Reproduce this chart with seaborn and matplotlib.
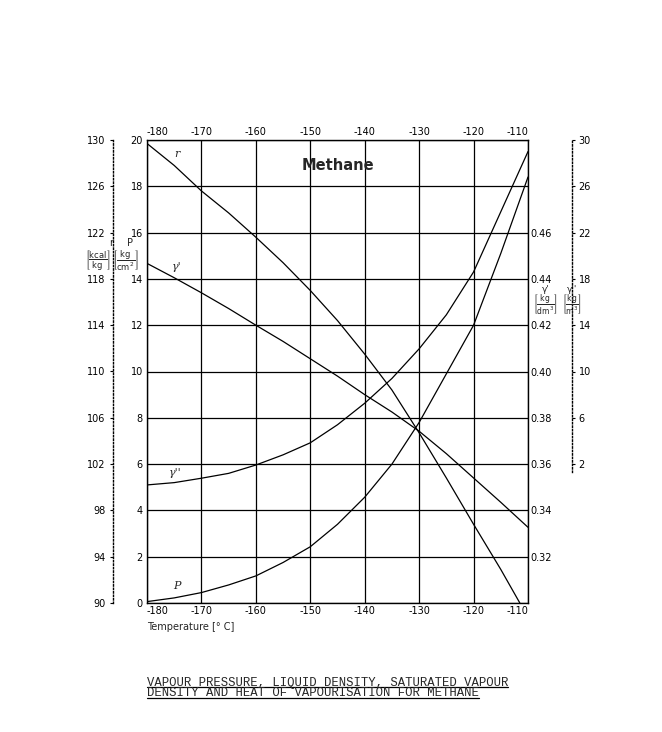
import matplotlib
matplotlib.use("Agg")
import matplotlib.pyplot as plt
from matplotlib.lines import Line2D
import seaborn as sns

# values (temperature in deg C)
temperature = [-180, -175, -170, -165, -160, -155, -150, -145, -140, -135, -130, -125, -120, -115, -110]
pressure = [0.06, 0.22, 0.45, 0.78, 1.17, 1.75, 2.43, 3.4, 4.57, 6.0, 7.8, 9.9, 12.0, 15.1, 18.4]  # kg/cm2
liquid_density = [0.4467, 0.4405, 0.434, 0.4272, 0.420, 0.413, 0.4055, 0.398, 0.390,
                  0.3825, 0.3742, 0.3645, 0.354, 0.3435, 0.3327]  # kg/dm3
vapour_density = [0.2, 0.4, 0.78, 1.2, 1.92, 2.8, 3.84, 5.4, 7.26, 9.4, 11.96, 14.9, 18.6, 23.8, 29.0]  # kg/m3
heat_temperature = [-180, -175, -170, -165, -160, -155, -150, -145, -140, -135, -130, -125, -120, -115, -111.5]
heat_vap = [129.7, 127.8, 125.6, 123.7, 121.6, 119.4, 117.0, 114.4, 111.5, 108.4, 104.7, 100.8, 96.8, 92.9, 90.0]  # kcal/kg

x_ticks = list(range(-180, -109, 10))
p_ticks = list(range(0, 21, 2))
r_ticks = list(range(90, 131, 4))
rho1_ticks = [0.32, 0.34, 0.36, 0.38, 0.40, 0.42, 0.44, 0.46]
rho2_ticks = list(range(2, 31, 4))

caption1 = "VAPOUR PRESSURE, LIQUID DENSITY, SATURATED VAPOUR"
caption2 = "DENSITY AND HEAT OF VAPOURISATION FOR METHANE"

sns.set_style("white", {"axes.edgecolor": "black", "xtick.color": "black", "ytick.color": "black"})
plt.rcParams["font.family"] = ["DejaVu Sans"]
plt.rcParams["axes.unicode_minus"] = False
plt.rcParams["axes.linewidth"] = 1.0

W, H = 662, 732
fig = plt.figure(figsize=(W / 100, H / 100), dpi=100)
L, R, T, B = 147, 528, 140, 603
ax = fig.add_axes([L / W, 1 - B / H, (R - L) / W, (B - T) / H])

line_kw = dict(color="black", linewidth=0.9)

# pressure on main axis
sns.lineplot(x=temperature, y=pressure, ax=ax, **line_kw)
ax.set_xlim(-180, -110)
ax.set_ylim(0, 20)
ax.set_xticks(x_ticks)
ax.set_yticks(p_ticks)
ax.grid(True, color="black", linewidth=0.9)
ax.tick_params(axis="x", top=True, labeltop=True, bottom=True, labelbottom=True,
               length=0, pad=2, labelsize=7)
ax.tick_params(axis="y", length=0, pad=3, labelsize=7)
for i, tick in enumerate(ax.xaxis.get_major_ticks()):
    if i == 0:
        tick.label1.set_ha("left")
        tick.label2.set_ha("left")
    elif i == len(x_ticks) - 1:
        tick.label1.set_ha("right")
        tick.label2.set_ha("right")
ax.set_xlabel("")
ax.set_ylabel("")

# heat of vapourisation, outer left scale
ax_r = ax.twinx()
sns.lineplot(x=heat_temperature, y=heat_vap, ax=ax_r, **line_kw)
ax_r.set_ylim(90, 130)
ax_r.set_yticks(r_ticks)
ax_r.yaxis.tick_left()
ax_r.spines["left"].set_position(("outward", 24.5))
ax_r.spines["left"].set_linestyle((0, (1, 1.5)))
for s in ["top", "bottom", "right"]:
    ax_r.spines[s].set_visible(False)
ax_r.tick_params(axis="y", direction="out", length=2.5, width=0.8, pad=3, labelsize=7)
ax_r.set_ylabel("")

# liquid density, inner right scale
ax_l = ax.twinx()
sns.lineplot(x=temperature, y=liquid_density, ax=ax_l, **line_kw)
ax_l.set_ylim(0.30, 0.50)
ax_l.set_yticks(rho1_ticks)
ax_l.set_yticklabels([f"{v:.2f}" for v in rho1_ticks])
for s in ["top", "bottom", "left", "right"]:
    ax_l.spines[s].set_visible(False)
ax_l.tick_params(axis="y", length=0, pad=2, labelsize=7)
ax_l.set_ylabel("")

# vapour density, outer right scale
ax_v = ax.twinx()
sns.lineplot(x=temperature, y=vapour_density, ax=ax_v, **line_kw)
ax_v.set_ylim(-10, 30)
ax_v.set_yticks(rho2_ticks)
ax_v.spines["right"].set_position(("outward", 32))
ax_v.spines["right"].set_bounds(1.3, 30)
ax_v.spines["right"].set_linestyle((0, (1, 1.5)))
for s in ["top", "bottom", "left"]:
    ax_v.spines[s].set_visible(False)
ax_v.tick_params(axis="y", direction="out", length=2.5, width=0.8, pad=2, labelsize=7)
ax_v.set_ylabel("")

# curve labels
lab_kw = dict(family="DejaVu Serif", style="italic", fontsize=8, ha="center", va="center")
ax.text(-174.5, 19.4, "r", **lab_kw)
ax.text(-174.5, 14.5, "γ'", **lab_kw)
ax.text(-174.9, 5.6, "γ''", **lab_kw)
ax.text(-174.5, 0.75, "P", **lab_kw)

ax.text(-144.9, 18.9, "Methane", fontsize=10.5, fontweight="bold", ha="center", va="center")
ax.text(0.0, -0.052, "Temperature [° C]", transform=ax.transAxes, fontsize=7, ha="left", va="center")


def fig_text(px, py, s, **kw):
    return fig.text(px / W, 1 - py / H, s, **kw)


sym_kw = dict(fontsize=7, ha="center", va="center")
unit_kw = dict(fontsize=6, ha="center", va="center")
fig_text(111, 243, "r", **sym_kw)
fig_text(98, 261, r"$\left[\dfrac{\mathrm{kcal}}{\mathrm{kg}}\right]$", **unit_kw)
fig_text(130, 243, "P", **sym_kw)
fig_text(125, 261, r"$\left[\dfrac{\mathrm{kg}}{\mathrm{cm^2}}\right]$", **unit_kw)
fig_text(546, 289, "γ'", fontsize=6.5, ha="center", va="center")
fig_text(545, 304, r"$\left[\dfrac{\mathrm{kg}}{\mathrm{dm^3}}\right]$", fontsize=5.5, ha="center", va="center")
fig_text(572, 289, "γ''", fontsize=6.5, ha="center", va="center")
fig_text(572, 304, r"$\left[\dfrac{\mathrm{kg}}{\mathrm{m^3}}\right]$", fontsize=5.5, ha="center", va="center")

# underlined caption
cap_kw = dict(family="Liberation Mono", fontsize=8.8, ha="left", va="baseline")
caps = [fig_text(L, 686, caption1, **cap_kw), fig_text(L, 696.5, caption2, **cap_kw)]
fig.canvas.draw()
renderer = fig.canvas.get_renderer()
for t, base in zip(caps, [686, 696.5]):
    bb = t.get_window_extent(renderer)
    yy = 1 - (base + 1.2) / H
    fig.add_artist(Line2D([bb.x0 / W, bb.x1 / W], [yy, yy], transform=fig.transFigure,
                          color="black", linewidth=0.9))

fig.savefig("out.png", dpi=100)
